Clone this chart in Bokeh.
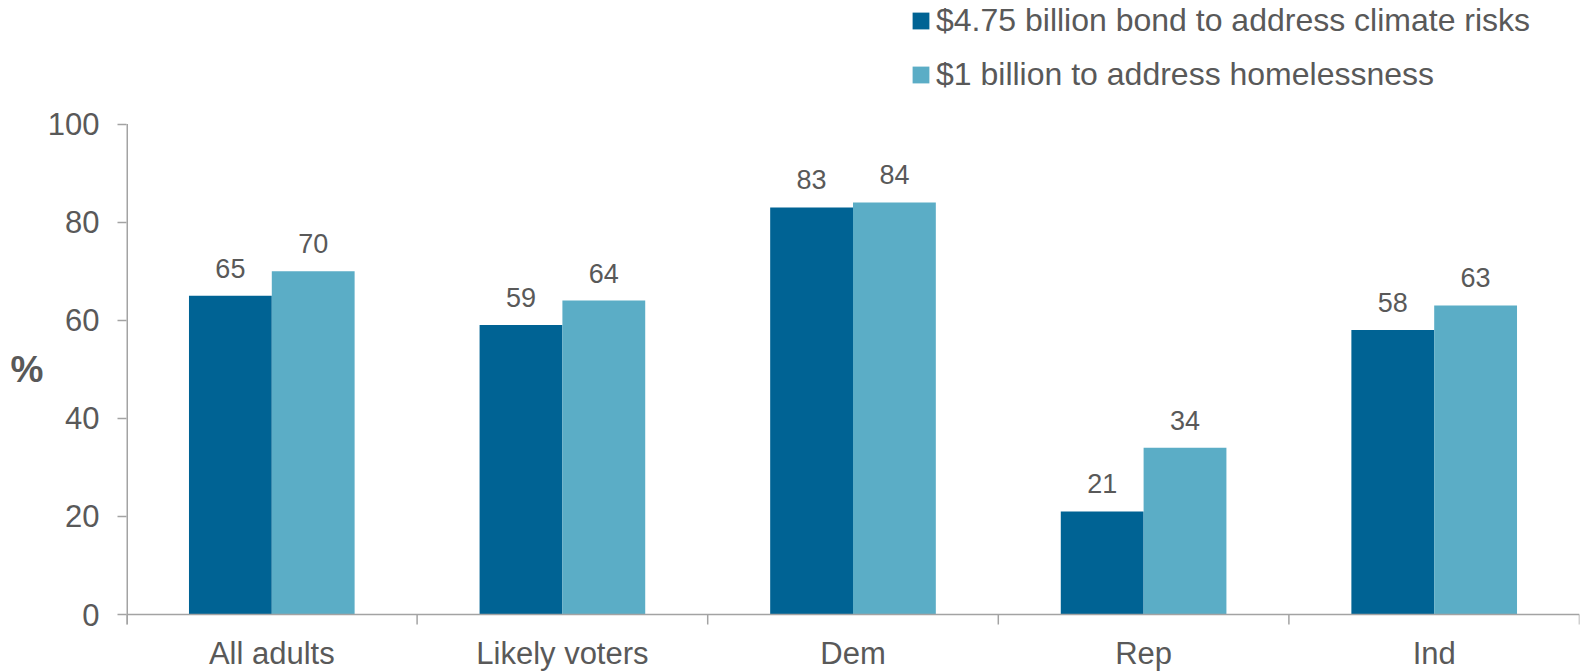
from bokeh.plotting import figure
from bokeh.models import (FactorRange, Range1d, FixedTicker, Legend, LegendItem,
                          Span, ColumnDataSource, LinearAxis)
from bokeh.transform import dodge
from bokeh.core.properties import value
from bokeh.embed import file_html
from bokeh.resources import INLINE

# ---- data ----
categories = ["All adults", "Likely voters", "Dem", "Rep", "Ind"]
climate_bond = [65, 59, 83, 21, 58]
homelessness = [70, 64, 84, 34, 63]
series_names = ["$4.75 billion bond to address climate risks",
                "$1 billion to address homelessness"]
y_ticks = [0, 20, 40, 60, 80, 100]
y_unit = "%"

# ---- style ----
FONT = "Liberation Sans"
TXT = "#595959"
AXC = "#a3a3a3"
DARK = "#006394"
LIGHT = "#5badc6"

src = ColumnDataSource(dict(
    cat=categories,
    climate=climate_bond,
    homeless=homelessness,
    climate_lbl=[str(v) for v in climate_bond],
    homeless_lbl=[str(v) for v in homelessness],
))

# The plot frame fills the full figure height; the y range is chosen so that
# the 0..100 scale sits where the reference draws it.
W, H = 1581, 671
px_per_unit = 4.905
y_zero_px = 614                      # distance of y=0 from the figure top
y_end = y_zero_px / px_per_unit      # value at the top edge of the frame
y_start = -(H - y_zero_px) / px_per_unit
tick_len = -10 / px_per_unit

p = figure(x_range=FactorRange(factors=categories, range_padding=0),
           y_range=Range1d(y_start, y_end),
           width=W, height=H,
           output_backend="svg", toolbar_location=None,
           min_border_left=126, min_border_top=0,
           min_border_right=2, min_border_bottom=0)

bw = 0.285
off = bw / 2
r1 = p.vbar(x=dodge("cat", -off, range=p.x_range), top="climate", width=bw,
            source=src, fill_color=DARK, line_color=None)
r2 = p.vbar(x=dodge("cat", off, range=p.x_range), top="homeless", width=bw,
            source=src, fill_color=LIGHT, line_color=None)

for col, lbl, sign in (("climate", "climate_lbl", -1), ("homeless", "homeless_lbl", 1)):
    p.text(x=dodge("cat", sign * off, range=p.x_range), y=col, text=lbl,
           source=src, text_align="center", text_baseline="bottom",
           y_offset=-18, text_font=value(FONT), text_font_size="27px",
           text_color=TXT)

# category labels under the axis
p.text(x="cat", y=0, text="cat", source=src, text_align="center",
       text_baseline="alphabetic", y_offset=39, text_font=value(FONT),
       text_font_size="31px", text_color=TXT)

# x-axis baseline, y-axis line and category boundary ticks
p.add_layout(Span(location=0, dimension="width", line_color=AXC, line_width=1.5))
bounds = list(range(len(categories) + 1))
p.segment(x0=bounds, y0=[0] * len(bounds), x1=bounds, y1=[tick_len] * len(bounds),
          line_color=AXC, line_width=1.5)
p.segment(x0=[0], y0=[tick_len], x1=[0], y1=[y_ticks[-1]], line_color=AXC,
          line_width=3)

p.xaxis.visible = False

# y axis
ya = p.yaxis[0]
ya.ticker = FixedTicker(ticks=y_ticks)
ya.major_label_text_font = FONT
ya.major_label_text_font_size = "31px"
ya.major_label_text_color = TXT
ya.major_label_standoff = 18
ya.major_tick_out = 9
ya.major_tick_in = 0
ya.major_tick_line_color = AXC
ya.major_tick_line_width = 1.5
ya.minor_tick_line_color = None
ya.axis_line_color = None

# unit label "%" as a second, tickless left axis at the middle of the scale
mid = (y_ticks[0] + y_ticks[-1]) / 2
ua = LinearAxis(ticker=FixedTicker(ticks=[mid]), major_label_overrides={mid: y_unit},
                axis_line_color=None, major_tick_line_color=None,
                minor_tick_line_color=None, major_tick_out=0, major_tick_in=0,
                major_label_standoff=1, major_label_text_font=FONT,
                major_label_text_font_style="bold",
                major_label_text_font_size="37px", major_label_text_color=TXT)
p.add_layout(ua, "left")

p.xgrid.visible = False
p.ygrid.visible = False
p.outline_line_color = None

legend = Legend(items=[LegendItem(label=series_names[0], renderers=[r1]),
                       LegendItem(label=series_names[1], renderers=[r2])],
                location=(784, 578), orientation="vertical",
                glyph_width=21, glyph_height=21, label_standoff=5,
                spacing=17, padding=0, margin=0, label_height=35,
                border_line_color=None, background_fill_alpha=0,
                label_text_font=FONT, label_text_font_size="32px",
                label_text_color=TXT)
p.add_layout(legend)

open("out.html", "w").write(file_html(p, INLINE))
